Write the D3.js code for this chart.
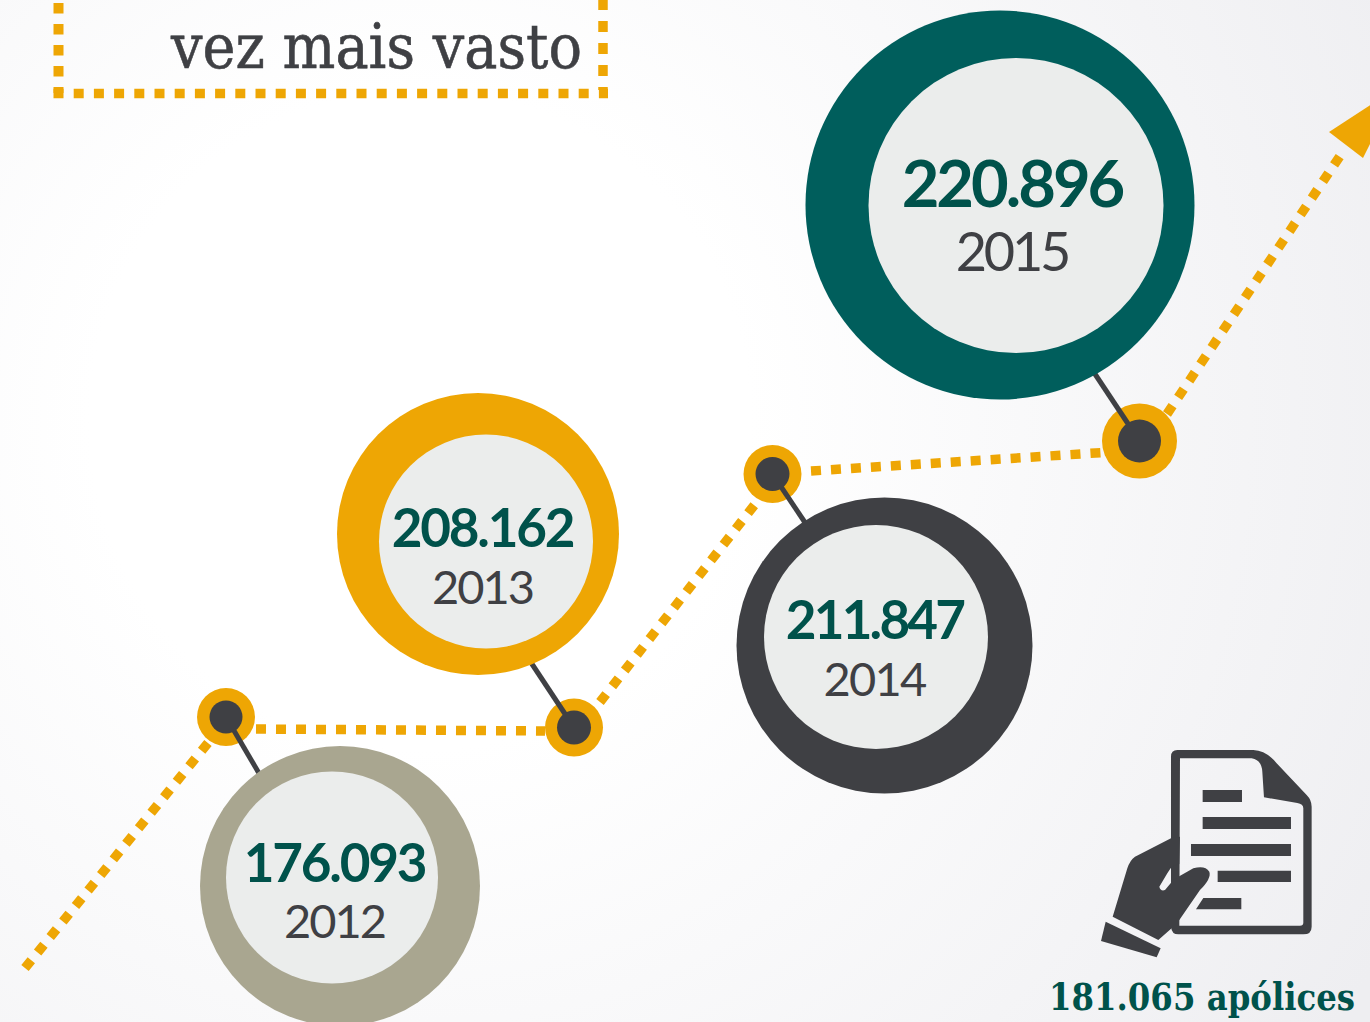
<!DOCTYPE html>
<html><head><meta charset="utf-8">
<script src="https://cdn.jsdelivr.net/npm/d3@7/dist/d3.min.js"></script>
<style>html,body{margin:0;padding:0;background:#fff}svg{display:block}</style></head>
<body><svg id="c" width="1370" height="1022"></svg>
<script>
const years=["2012","2013","2014","2015"];
const policies=[176093,208162,211847,220896];
const title="vez mais vasto";
const total="181.065 apólices";
const fmt=d3.format(",");
const label=v=>fmt(v).replace(/,/g,".");

const nodeX=d3.scaleOrdinal(years,[226,574,772.5,1139.5]);
const nodeY=d3.scaleOrdinal(years,[717,727.5,474,441]);
const nodeR=d3.scaleOrdinal(years,[29,29,29,37.5]);
const dotR=d3.scaleOrdinal(years,[16.5,17,17,21.5]);
const ringX=d3.scaleOrdinal(years,[340,478,884.5,1000]);
const ringY=d3.scaleOrdinal(years,[886,534,645.5,205]);
const ringR=d3.scaleOrdinal(years,[140,141,148,194.5]);
const coreX=d3.scaleOrdinal(years,[332,486,876,1016]);
const coreY=d3.scaleOrdinal(years,[877.5,541.5,637,205.5]);
const coreR=d3.scaleOrdinal(years,[106,107,112,147.5]);
const ringColor=d3.scaleOrdinal(years,["#a9a690","#eea604","#3f4044","#005e5c"]);
const numSize=d3.scaleOrdinal(years,[53,53,53,65]);
const yearSize=d3.scaleOrdinal(years,[47,47,47,54]);
const numSpacing=d3.scaleOrdinal(years,[-2.2,-2.2,-2.8,-3]);
const yearSpacing=d3.scaleOrdinal(years,[-2,-2,-1.8,-3.2]);
const textX=d3.scaleOrdinal(years,[334.5,482.5,874.5,1012]);
const numY=d3.scaleOrdinal(years,[882,547,639,207]);
const yearY=d3.scaleOrdinal(years,[938,604,696,271]);
const linkEnd=d3.scaleOrdinal(years,[[260,775],[530,661],[806,524],[1093,371]]);

const ORANGE="#eea604",DARK="#3f4044",TEAL="#00524b";
const svg=d3.select("#c");
const defs=svg.append("defs");
const g=defs.append("radialGradient").attr("id","bg").attr("gradientUnits","userSpaceOnUse")
 .attr("cx",420).attr("cy",420).attr("r",1100);
g.append("stop").attr("offset",0.3).attr("stop-color","#ffffff");
g.append("stop").attr("offset",1).attr("stop-color","#eeeef1");
svg.append("rect").attr("width",1370).attr("height",1022).attr("fill","url(#bg)");

// frame
const seg=d3.line();
svg.append("path").attr("d",seg([[58.5,3],[58.5,93]])).attr("stroke",ORANGE).attr("stroke-width",10).attr("stroke-dasharray","10.5 10.5").attr("fill","none");
svg.append("path").attr("d",seg([[53.5,93.5],[608,93.5]])).attr("stroke",ORANGE).attr("stroke-width",9.5).attr("stroke-dasharray","10 10.2").attr("fill","none");
svg.append("path").attr("d",seg([[603,0],[603,90]])).attr("stroke",ORANGE).attr("stroke-width",9.5).attr("stroke-dasharray","11 11").attr("stroke-dashoffset",1).attr("fill","none");
svg.append("text").text(title).attr("x",582).attr("y",68).attr("text-anchor","end")
 .attr("font-family","'DejaVu Serif'").attr("font-size",61).attr("fill",DARK).attr("stroke",DARK).attr("stroke-width",0.6).attr("textLength",411).attr("lengthAdjust","spacingAndGlyphs");

// trend line
const trend=[[[25,968],[212,738]],[[256,729],[545,731]],[[600,702],[756,503]],[[811,471],[1112,452]],[[1167,414],[1342,153]]];
svg.append("g").selectAll("path").data(trend).join("path")
 .attr("d",d=>d3.line()(d)).attr("fill","none").attr("stroke",ORANGE).attr("stroke-width",9.5).attr("stroke-dasharray","10 10");
svg.append("path").attr("d",d3.line()([[1329,132],[1372,104],[1372,140],[1363,158]])+"Z").attr("fill",ORANGE);

const nodes=svg.append("g").selectAll("g").data(years).join("g");
nodes.append("circle").attr("cx",nodeX).attr("cy",nodeY).attr("r",nodeR).attr("fill",ORANGE);
nodes.append("line").attr("x1",nodeX).attr("y1",nodeY).attr("x2",d=>linkEnd(d)[0]).attr("y2",d=>linkEnd(d)[1])
 .attr("stroke",DARK).attr("stroke-width",5);
nodes.append("circle").attr("cx",nodeX).attr("cy",nodeY).attr("r",dotR).attr("fill",DARK);

const rings=svg.append("g").selectAll("g").data(years).join("g");
rings.append("circle").attr("cx",ringX).attr("cy",ringY).attr("r",ringR).attr("fill",ringColor);
rings.append("circle").attr("cx",coreX).attr("cy",coreY).attr("r",coreR).attr("fill","#ebedec");
rings.append("text").text((d,i)=>label(policies[i])).attr("x",textX).attr("y",numY).attr("text-anchor","middle")
 .attr("font-family","Lato").attr("font-weight",700).attr("font-size",numSize).attr("letter-spacing",numSpacing).attr("fill",TEAL);
rings.append("text").text(d=>d).attr("x",textX).attr("y",yearY).attr("text-anchor","middle")
 .attr("font-family","Lato").attr("font-size",yearSize).attr("letter-spacing",yearSpacing).attr("fill",DARK);

// icon
const icon=svg.append("g").attr("transform","translate(1090,740) scale(0.3333)").attr("fill",DARK);
icon.append("path").attr("fill-rule","evenodd").attr("d","M262 30 L490 30 Q530 32 560 70 L650 165 Q665 180 665 200 L665 560 Q665 583 640 583 L265 583 Q245 583 243 560 L243 50 Q243 30 262 30Z M270 55 L268 557 L630 557 Q640 557 640 548 L640 205 Q640 192 622 189 L522 172 L517 95 Q515 60 485 55Z");
icon.append("path").attr("d","M243 295 L135 350 Q120 360 112 385 L68 530 L205 600 L245 565 L268 540 L330 450 Q365 415 358 395 Q345 375 310 385 L252 418 L225 450 Q212 455 208 440 L232 400 L245 380 L268 372 L270 290Z");
icon.append("path").attr("d","M47 545 L212 625 L200 652 L33 603Z");
icon.append("path").attr("d","M338 150H456V186H338Z M338 231H603V267H338Z M303 312H603V348H303Z M383 392H603V426H383Z M318 508L340 474H454V508Z");
svg.append("text").text(total).attr("x",1355).attr("y",1010).attr("text-anchor","end")
 .attr("font-family","'DejaVu Serif'").attr("font-weight",700).attr("font-size",38).attr("fill",TEAL).attr("textLength",306).attr("lengthAdjust","spacingAndGlyphs");
</script></body></html>
